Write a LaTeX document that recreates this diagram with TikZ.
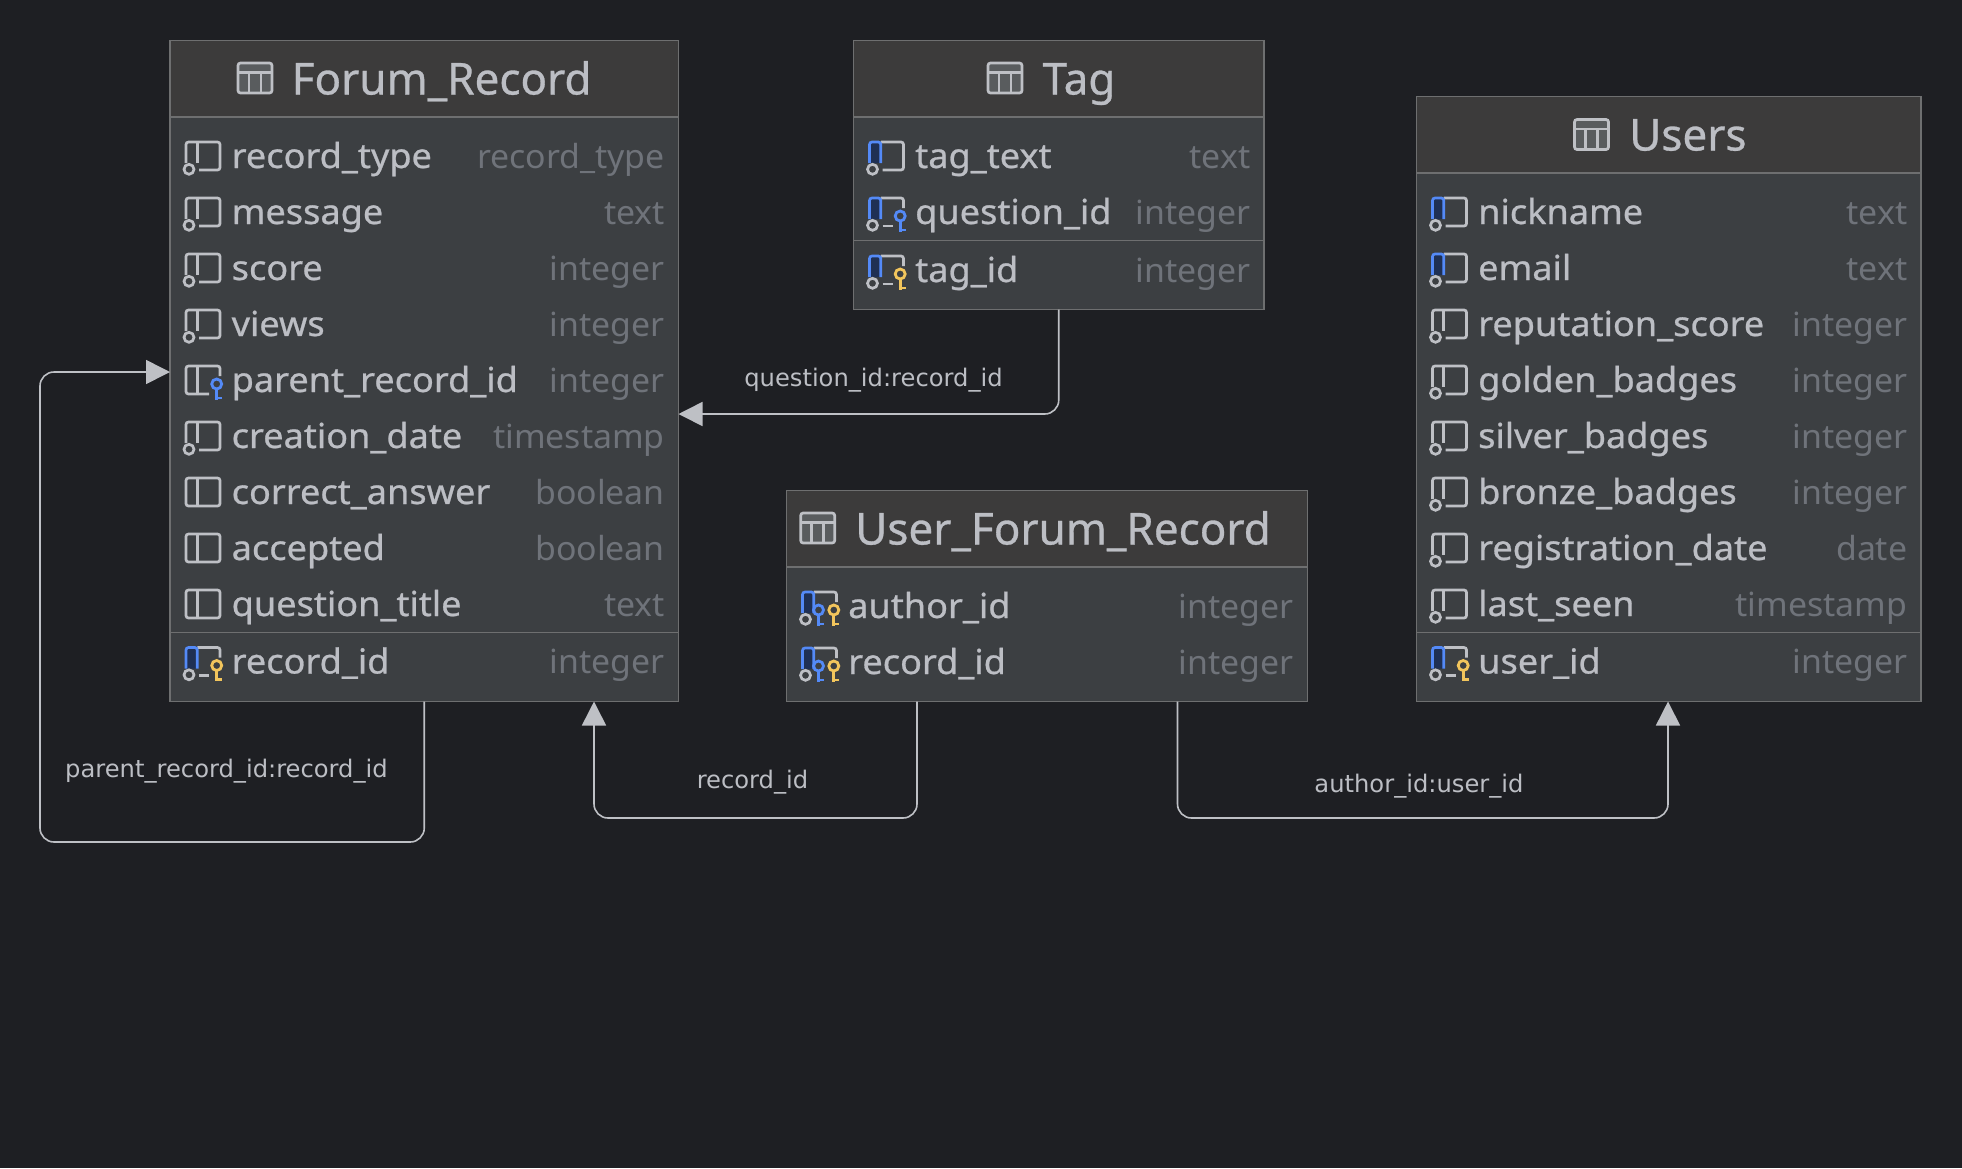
\documentclass[tikz,border=0pt]{standalone}
\usepackage{fontspec}
\usepackage{tikz}
\usetikzlibrary{arrows.meta}
\setmainfont{Noto Sans}
\newfontfamily\headfont[FakeBold=0.7]{Noto Sans}
\newfontfamily\fieldfont[FakeBold=0.7,FakeStretch=1.05]{Noto Sans}
\newfontfamily\typefont[FakeStretch=1.02]{Noto Sans}
\newfontfamily\linkfont{DejaVu Sans}
\definecolor{bgcol}{HTML}{1E1F23}
\definecolor{headcol}{HTML}{3C3B3B}
\definecolor{bodycol}{HTML}{3C3F42}
\definecolor{edgecol}{HTML}{6E6F70}
\definecolor{namecol}{HTML}{BCBEC4}
\definecolor{typecol}{HTML}{6F737A}
\definecolor{iconcol}{HTML}{BEC0C5}
\definecolor{idxblue}{HTML}{548AF7}
\definecolor{idxfill}{HTML}{1F3054}
\definecolor{keygold}{HTML}{F2C55C}
\tikzset{
  tablebody/.style={draw=edgecol,fill=bodycol,line width=1.6pt,anchor=north west,inner sep=0pt,outer sep=0pt},
  tablehead/.style={draw=edgecol,fill=headcol,line width=1.6pt,anchor=north west,inner sep=0pt,outer sep=0pt,minimum height=76.5pt},
  rowsep/.style={draw=edgecol,line width=1.6pt},
  tabletitle/.style={anchor=base west,inner sep=0pt,text=namecol,font=\headfont\fontsize{44}{50}\selectfont},
  fieldname/.style={anchor=base west,inner sep=0pt,text=namecol,font=\fieldfont\fontsize{34.4}{40}\selectfont},
  fieldtype/.style={anchor=base east,inner sep=0pt,text=typecol,font=\typefont\fontsize{33.2}{40}\selectfont},
  link/.style={draw=iconcol,line width=1.6pt,rounded corners=14pt,-{Triangle[length=24pt,width=24pt,fill=iconcol]}},
  linklabel/.style={inner sep=0pt,text=namecol,font=\linkfont\fontsize{24.2}{28}\selectfont},
  iconline/.style={draw=iconcol,line width=2.7pt,rounded corners=2.5pt},
  idxline/.style={draw=idxblue,fill=idxfill,line width=2.7pt,rounded corners=2.5pt},
  keyline/.style={line width=2.8pt},
  tableicon/.pic={
    \draw[iconline,fill=bodycol!85!white] (-17,-15) rectangle (17,15);
    \draw[iconline] (-17,-5.5) -- (17,-5.5);
    \draw[iconline] (-6,-5.5) -- (-6,15);
    \draw[iconline] (6,-5.5) -- (6,15);
  },
  colplain/.pic={
    \draw[iconline] (-17,-14) rectangle (17,14);
    \draw[iconline] (-5.7,-14) -- (-5.7,14);
  },
  colnn/.pic={
    \draw[iconline] (-17,7) -- (-17,-14) -- (17,-14) -- (17,14) -- (-4,14);
    \draw[iconline] (-5.7,-14) -- (-5.7,7);
    \draw[iconline] (-14,13.3) circle (5);
  },
  colfk/.pic={
    \draw[iconline] (6,14) -- (-17,14) -- (-17,-14) -- (17,-14) -- (17,-4);
    \draw[iconline] (-5.7,-14) -- (-5.7,14);
    \keyglyph{13.7}{idxblue}
  },
  colidx/.pic={
    \draw[iconline] (-5.7,-14) -- (17,-14) -- (17,14) -- (-4,14);
    \draw[idxline] (-5.7,7) -- (-5.7,-14) -- (-17,-14) -- (-17,7);
    \draw[iconline] (-14,13.3) circle (5);
  },
  colidxfk/.pic={
    \draw[iconline] (-5.7,-14) -- (17,-14) -- (17,-4);
    \draw[iconline] (-4,14) -- (6,14);
    \draw[idxline] (-5.7,7) -- (-5.7,-14) -- (-17,-14) -- (-17,7);
    \draw[iconline] (-14,13.3) circle (5);
    \keyglyph{13.7}{idxblue}
  },
  colpk/.pic={
    \draw[iconline] (-5.7,-14) -- (17,-14) -- (17,-4);
    \draw[iconline] (-4,14) -- (6,14);
    \draw[idxline] (-5.7,7) -- (-5.7,-14) -- (-17,-14) -- (-17,7);
    \draw[iconline] (-14,13.3) circle (5);
    \keyglyph{13.7}{keygold}
  },
  colpkfk/.pic={
    \draw[iconline] (-5.7,-14) -- (17,-14) -- (17,-4);
    \draw[idxline] (-5.7,7) -- (-5.7,-14) -- (-17,-14) -- (-17,7);
    \draw[iconline] (-14,13.3) circle (5);
    \keyglyph{-1}{idxblue}
    \keyglyph{14.3}{keygold}
  }
}
% key mark of a column icon: x position, colour
\newcommand{\keyglyph}[2]{
  \draw[keyline,draw=#2] (#1,4) circle (5);
  \draw[keyline,draw=#2] (#1,9) -- (#1,19.5);
  \draw[keyline,draw=#2] (#1,18) -- ++(5.5,0);
}
% one column row: node name, box left, box right, row y, name, type, icon
\newcommand{\fieldrow}[7]{
  \pic at (#2+33,#4) {#7};
  \node[fieldname] (#1name) at (#2+61.5,#4+12) {#5};
  \node[fieldtype] (#1type) at (#3-13.5,#4+12) {#6};
}

\begin{document}
\begin{tikzpicture}[x=1pt,y=-1pt]
  \fill[bgcol] (0,0) rectangle (1962,1168);
  \useasboundingbox (0,0) rectangle (1962,1168);

  % Forum_Record
  \node[tablebody,minimum width=508.5pt,minimum height=661pt] (forum) at (170,40.5) {};
  \node[tablehead,minimum width=508.5pt] (forumhead) at (170,40.5) {};
  \pic at (255,78) {tableicon};
  \node[tabletitle] (forumtitle) at (291.5,94.5) {Forum\_Record};
  \fieldrow{fr1}{170}{678.5}{156}{record\_type}{record\_type}{colnn}
  \fieldrow{fr2}{170}{678.5}{212}{message}{text}{colnn}
  \fieldrow{fr3}{170}{678.5}{268}{score}{integer}{colnn}
  \fieldrow{fr4}{170}{678.5}{324}{views}{integer}{colnn}
  \fieldrow{fr5}{170}{678.5}{380}{parent\_record\_id}{integer}{colfk}
  \fieldrow{fr6}{170}{678.5}{436}{creation\_date}{timestamp}{colnn}
  \fieldrow{fr7}{170}{678.5}{492}{correct\_answer}{boolean}{colplain}
  \fieldrow{fr8}{170}{678.5}{548}{accepted}{boolean}{colplain}
  \fieldrow{fr9}{170}{678.5}{604}{question\_title}{text}{colplain}
  \draw[rowsep] (forum.west |- 0,632.5) -- (forum.east |- 0,632.5);
  \fieldrow{fr10}{170}{678.5}{661.5}{record\_id}{integer}{colpk}

  % Tag
  \node[tablebody,minimum width=410.5pt,minimum height=269pt] (tag) at (853.5,40.5) {};
  \node[tablehead,minimum width=410.5pt] (taghead) at (853.5,40.5) {};
  \pic at (1005,78) {tableicon};
  \node[tabletitle] (tagtitle) at (1042.5,94.5) {Tag};
  \fieldrow{tg1}{853.5}{1264}{156}{tag\_text}{text}{colidx}
  \fieldrow{tg2}{853.5}{1264}{212}{question\_id}{integer}{colidxfk}
  \draw[rowsep] (tag.west |- 0,240.5) -- (tag.east |- 0,240.5);
  \fieldrow{tg3}{853.5}{1264}{270}{tag\_id}{integer}{colpk}

  % Users
  \node[tablebody,minimum width=504.5pt,minimum height=605pt] (users) at (1416.5,96.5) {};
  \node[tablehead,minimum width=504.5pt] (usershead) at (1416.5,96.5) {};
  \pic at (1591.5,134.5) {tableicon};
  \node[tabletitle] (userstitle) at (1629,150.5) {Users};
  \fieldrow{us1}{1416.5}{1921}{212}{nickname}{text}{colidx}
  \fieldrow{us2}{1416.5}{1921}{268}{email}{text}{colidx}
  \fieldrow{us3}{1416.5}{1921}{324}{reputation\_score}{integer}{colnn}
  \fieldrow{us4}{1416.5}{1921}{380}{golden\_badges}{integer}{colnn}
  \fieldrow{us5}{1416.5}{1921}{436}{silver\_badges}{integer}{colnn}
  \fieldrow{us6}{1416.5}{1921}{492}{bronze\_badges}{integer}{colnn}
  \fieldrow{us7}{1416.5}{1921}{548}{registration\_date}{date}{colnn}
  \fieldrow{us8}{1416.5}{1921}{604}{last\_seen}{timestamp}{colnn}
  \draw[rowsep] (users.west |- 0,632.5) -- (users.east |- 0,632.5);
  \fieldrow{us9}{1416.5}{1921}{661.5}{user\_id}{integer}{colpk}

  % User_Forum_Record
  \node[tablebody,minimum width=521pt,minimum height=211pt] (ufr) at (786.5,490.5) {};
  \node[tablehead,minimum width=521pt] (ufrhead) at (786.5,490.5) {};
  \pic at (817.7,528) {tableicon};
  \node[tabletitle] (ufrtitle) at (855,544.5) {User\_Forum\_Record};
  \fieldrow{uf1}{786.5}{1307.5}{606}{author\_id}{integer}{colpkfk}
  \fieldrow{uf2}{786.5}{1307.5}{662}{record\_id}{integer}{colpkfk}

  % connectors
  \coordinate (forumtag) at (678.5,414);
  \coordinate (forumself) at (170,372);
  \coordinate (forumrec) at (594,701.5);
  \coordinate (ufrrec) at (917,701.5);
  \coordinate (ufrauth) at (1177.5,701.5);
  \coordinate (usersauth) at (1668,701.5);
  \coordinate (selfturn) at (40,842);
  \draw[link] (tag.south) |- (forumtag);
  \draw[link] (forum.south) |- (selfturn) |- (forumself);
  \draw[link] (ufrrec) -- ++(0,116.5) -| (forumrec);
  \draw[link] (ufrauth) -- ++(0,116.5) -| (usersauth);
  \node[linklabel] (taglabel) at (873.5,380) {question\_id:record\_id};
  \node[linklabel] (selflabel) at (226.5,771) {parent\_record\_id:record\_id};
  \node[linklabel] (reclabel) at (752.5,782) {record\_id};
  \node[linklabel] (authlabel) at (1419,786) {author\_id:user\_id};
\end{tikzpicture}
\end{document}
